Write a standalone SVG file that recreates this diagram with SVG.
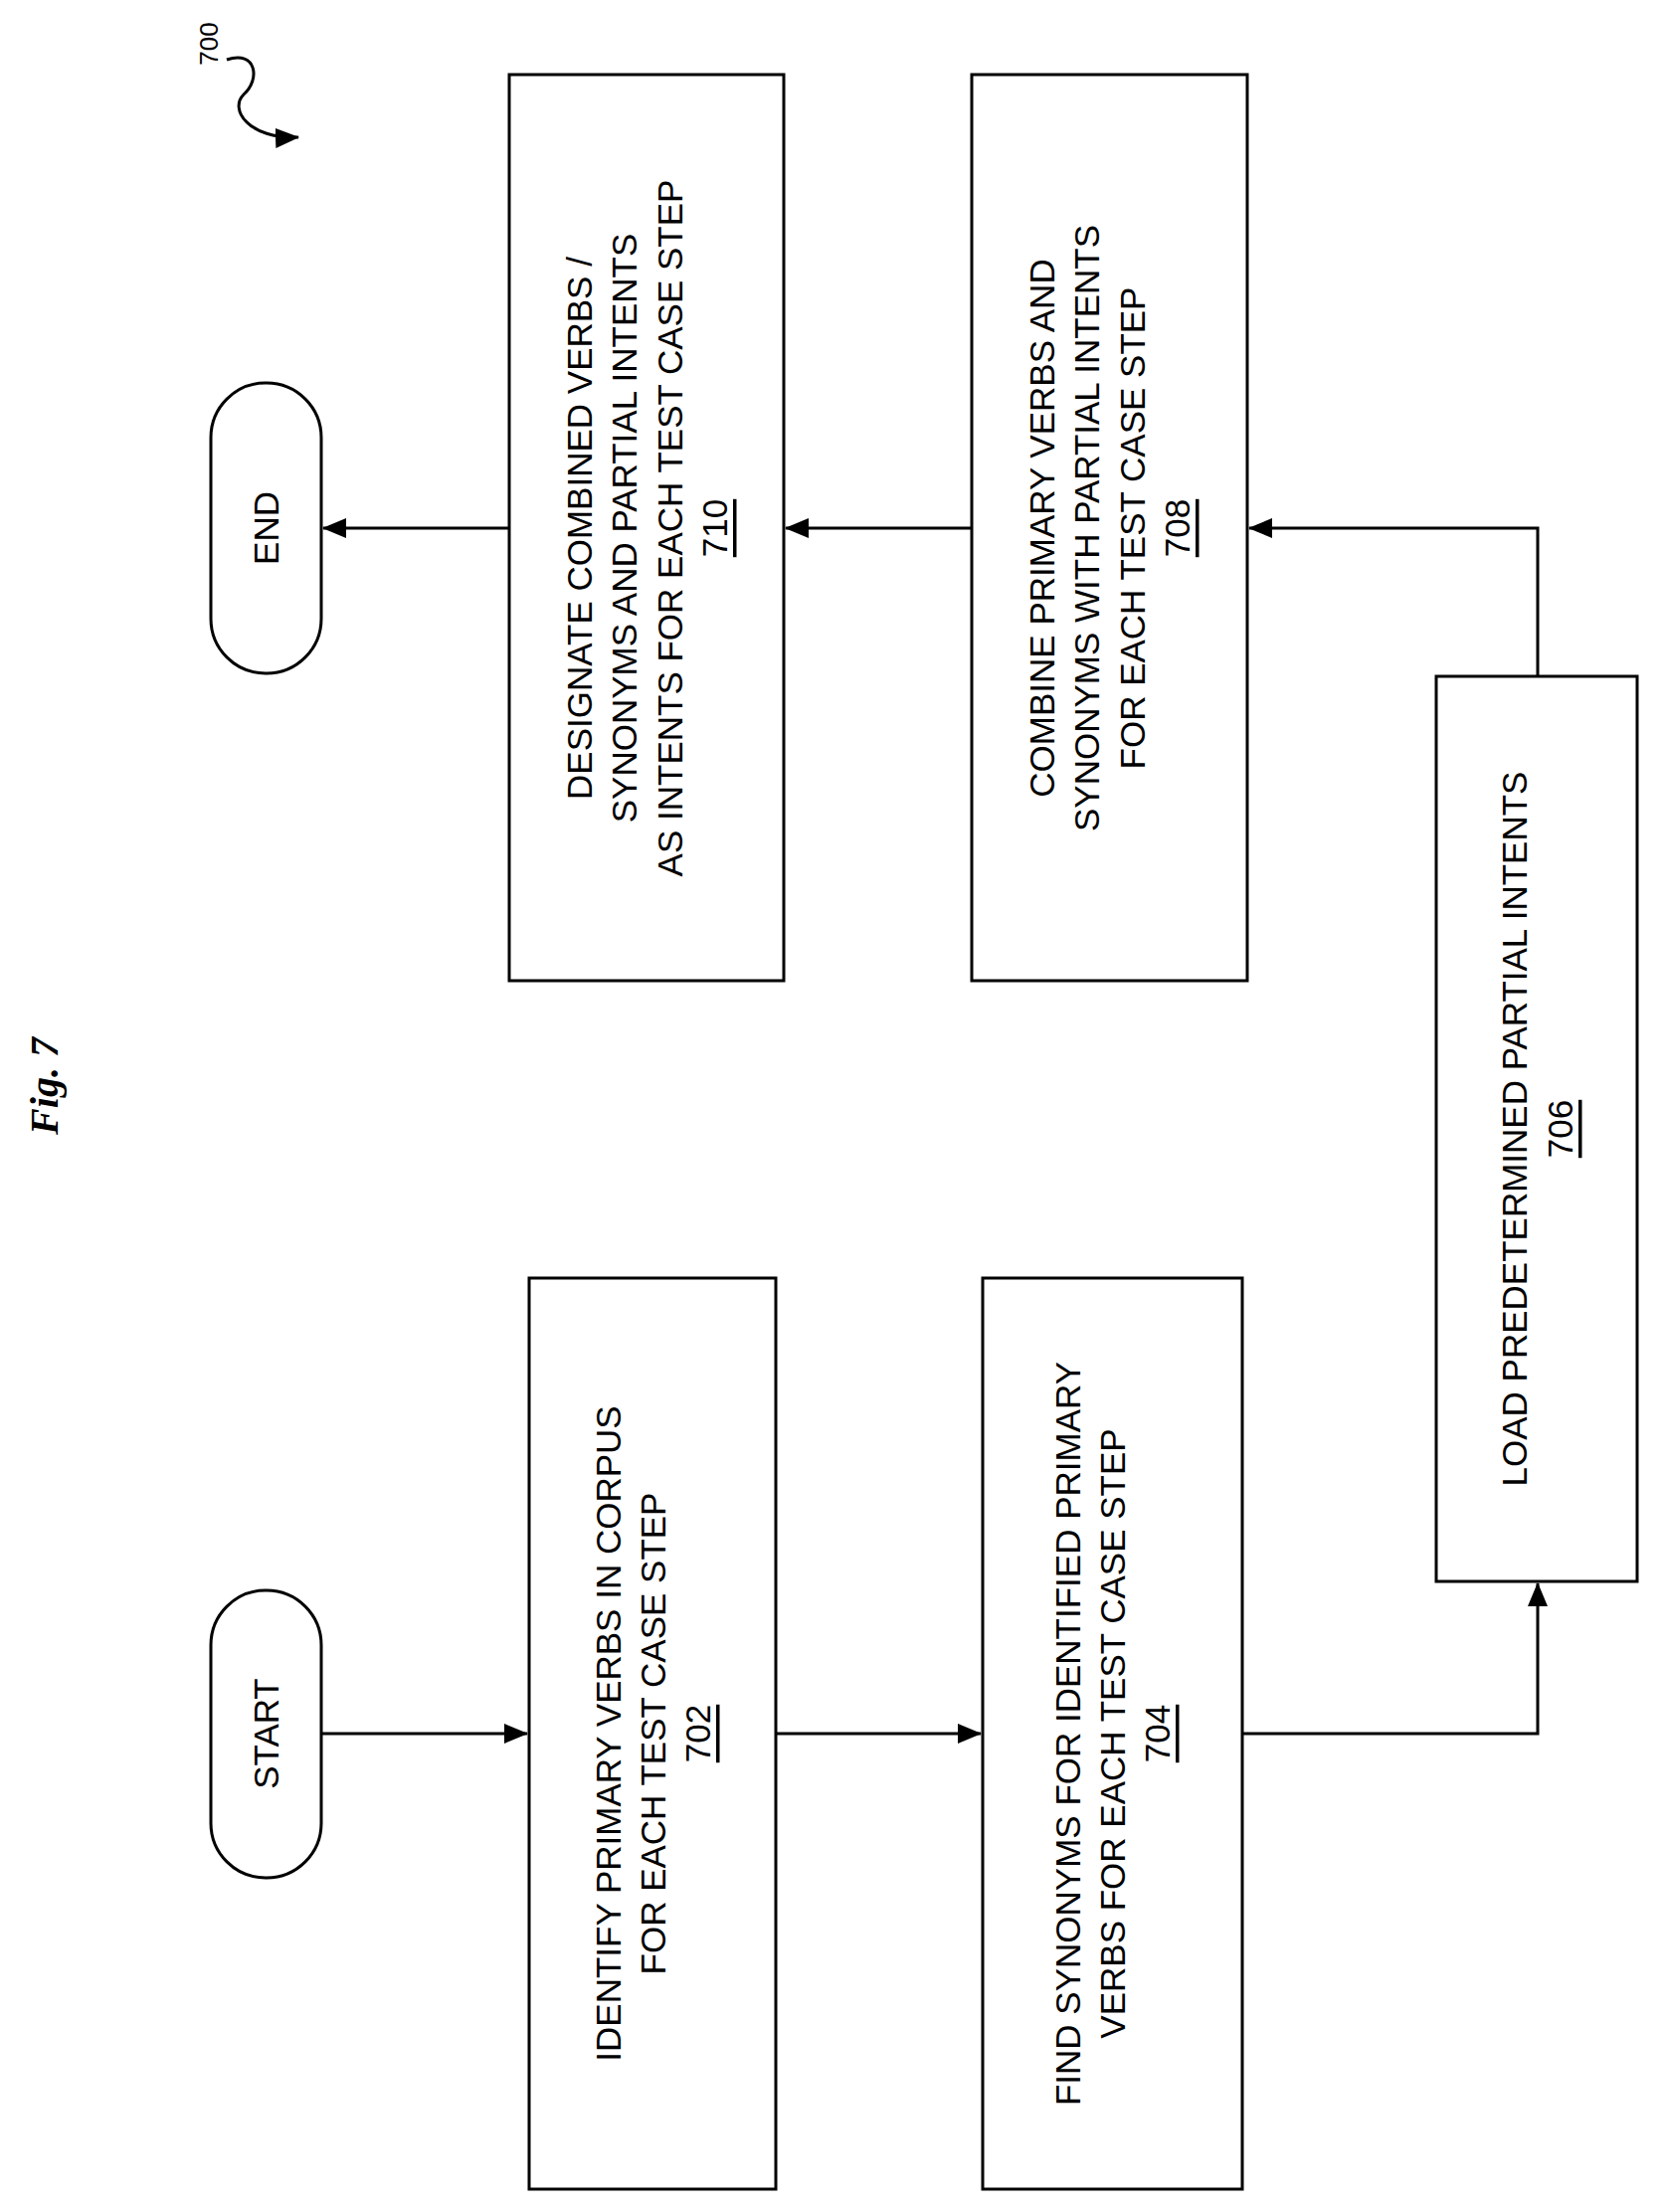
<svg xmlns="http://www.w3.org/2000/svg" width="1673" height="2224" viewBox="0 0 1673 2224">
<style>
.b{fill:#fff;stroke:#000;stroke-width:3}
.t{font-family:"Liberation Sans",Arial,sans-serif;font-size:35px;text-anchor:middle;dominant-baseline:central}
.c{fill:none;stroke:#000;stroke-width:3}
</style>
<defs>
<marker id="ah" markerWidth="24" markerHeight="20" refX="23" refY="10" orient="auto" markerUnits="userSpaceOnUse" viewBox="0 0 24 20"><path d="M0,0L24,10L0,20z"/></marker></defs>
<rect width="1673" height="2224" fill="#fff"/>
<text transform="translate(44,1092) rotate(-90)" style="font-family:'Liberation Serif',serif;font-style:italic;font-weight:bold;font-size:40px;text-anchor:middle;dominant-baseline:central">Fig. 7</text>
<g id="ref700"><text transform="translate(210,44) rotate(-90)" class="t" style="font-size:26px">700</text>
<path class="c" d="M228,60 C258,50 262,80 245,95 C230,110 250,140 300,138" marker-end="url(#ah)"/></g>
<g id="start"><rect class="b" x="212" y="1599" width="111" height="289" rx="55"/><text class="t" transform="translate(267,1743) rotate(-90)">START</text></g>
<g id="n702"><rect class="b" x="532" y="1285" width="248" height="916"/><text class="t" transform="translate(656,1743) rotate(-90)"><tspan x="0" y="-45">IDENTIFY PRIMARY VERBS IN CORPUS</tspan><tspan x="0" y="0">FOR EACH TEST CASE STEP</tspan><tspan x="0" y="45" text-decoration="underline">702</tspan></text></g>
<g id="n704"><rect class="b" x="988" y="1285" width="261" height="916"/><text class="t" transform="translate(1118,1743) rotate(-90)"><tspan x="0" y="-45">FIND SYNONYMS FOR IDENTIFIED PRIMARY</tspan><tspan x="0" y="0">VERBS FOR EACH TEST CASE STEP</tspan><tspan x="0" y="45" text-decoration="underline">704</tspan></text></g>
<g id="n706"><rect class="b" x="1444" y="680" width="202" height="910"/><text class="t" transform="translate(1545,1135) rotate(-90)"><tspan x="0" y="-23">LOAD PREDETERMINED PARTIAL INTENTS</tspan><tspan x="0" y="23" text-decoration="underline">706</tspan></text></g>
<g id="n708"><rect class="b" x="977" y="75" width="277" height="911"/><text class="t" transform="translate(1115,531) rotate(-90)"><tspan x="0" y="-68">COMBINE PRIMARY VERBS AND</tspan><tspan x="0" y="-23">SYNONYMS WITH PARTIAL INTENTS</tspan><tspan x="0" y="23">FOR EACH TEST CASE STEP</tspan><tspan x="0" y="68" text-decoration="underline">708</tspan></text></g>
<g id="n710"><rect class="b" x="512" y="75" width="276" height="911"/><text class="t" transform="translate(650,531) rotate(-90)"><tspan x="0" y="-68">DESIGNATE COMBINED VERBS /</tspan><tspan x="0" y="-23">SYNONYMS AND PARTIAL INTENTS</tspan><tspan x="0" y="23">AS INTENTS FOR EACH TEST CASE STEP</tspan><tspan x="0" y="68" text-decoration="underline">710</tspan></text></g>
<g id="end"><rect class="b" x="212" y="385" width="111" height="292" rx="55"/><text class="t" transform="translate(267,531) rotate(-90)">END</text></g>
<g id="connectors">
<path class="c" d="M323,1743H530" marker-end="url(#ah)"/>
<path class="c" d="M780,1743H986" marker-end="url(#ah)"/>
<path class="c" d="M1249,1743H1546V1592" marker-end="url(#ah)"/>
<path class="c" d="M1546,680V531H1256" marker-end="url(#ah)"/>
<path class="c" d="M977,531H790" marker-end="url(#ah)"/>
<path class="c" d="M512,531H325" marker-end="url(#ah)"/>
</g>
</svg>
